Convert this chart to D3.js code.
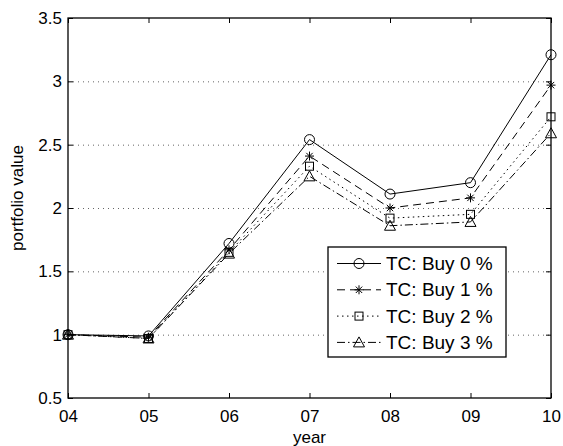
<!doctype html>
<html>
<head>
<script src="https://cdn.jsdelivr.net/npm/d3@7/dist/d3.min.js"></script>
<style>
  body { margin: 0; background: #fff; }
  svg { font-family: "Liberation Sans", Arial, sans-serif; }
  .grid line { stroke: #000; stroke-width: 1; stroke-dasharray: 1 4; opacity: 0.6; }
</style>
</head>
<body>
<svg width="563" height="446"></svg>
<script>
// data
var years = [4, 5, 6, 7, 8, 9, 10];
var yearLabels = ["04", "05", "06", "07", "08", "09", "10"];
var yTicks = [0.5, 1, 1.5, 2, 2.5, 3, 3.5];
var buy0 = [1.00, 0.99, 1.72, 2.54, 2.11, 2.20, 3.21];
var buy1 = [1.00, 0.98, 1.67, 2.41, 2.00, 2.08, 2.97];
var buy2 = [1.00, 0.97, 1.65, 2.33, 1.92, 1.95, 2.72];
var buy3 = [1.00, 0.97, 1.64, 2.25, 1.86, 1.89, 2.59];
var names = ["TC: Buy 0 %", "TC: Buy 1 %", "TC: Buy 2 %", "TC: Buy 3 %"];

var series = [
  {name: names[0], values: buy0, dash: null, marker: "circle"},
  {name: names[1], values: buy1, dash: "8,5", marker: "star"},
  {name: names[2], values: buy2, dash: "1.5,3.5", marker: "square"},
  {name: names[3], values: buy3, dash: "8,3,1.5,3", marker: "triangle"}
];

// plot box (top is reserved on window, so use other names)
var pLeft = 68, pRight = 551, pTop = 18, pBottom = 398;
var svg = d3.select("svg");

var x = d3.scaleLinear().domain([4, 10]).range([pLeft, pRight]);
var y = d3.scaleLinear().domain([0.5, 3.5]).range([pBottom, pTop]);

// horizontal dotted grid
svg.append("g").attr("class", "grid")
  .selectAll("line")
  .data(yTicks.slice(1, -1))
  .enter().append("line")
  .attr("x1", pLeft).attr("x2", pRight)
  .attr("y1", function(d) { return y(d) + 0.5; })
  .attr("y2", function(d) { return y(d) + 0.5; });

// axes, ticks inward
var xAxis = d3.axisBottom(x).tickValues(years)
  .tickFormat(function(d, i) { return yearLabels[i]; })
  .tickSizeInner(-5).tickSizeOuter(0).tickPadding(12);
svg.append("g").attr("transform", "translate(0," + pBottom + ")").call(xAxis);

var yAxis = d3.axisLeft(y).tickValues(yTicks)
  .tickFormat(d3.format("")).tickSizeInner(-5).tickSizeOuter(0).tickPadding(6);
svg.append("g").attr("transform", "translate(" + pLeft + ",0)").call(yAxis);

// mirrored top / right ticks
svg.append("g").attr("transform", "translate(0," + pTop + ")")
  .call(d3.axisTop(x).tickValues(years).tickSizeInner(-5).tickSizeOuter(0).tickFormat(""));
svg.append("g").attr("transform", "translate(" + pRight + ",0)")
  .call(d3.axisRight(y).tickValues(yTicks).tickSizeInner(-5).tickSizeOuter(0).tickFormat(""));

svg.selectAll(".domain").remove();
svg.selectAll(".tick line").attr("stroke", "#000");
svg.selectAll(".tick text").attr("font-size", 17).attr("fill", "#000")
  .attr("font-family", "'Liberation Sans', Arial, sans-serif");

svg.append("rect")
  .attr("x", pLeft).attr("y", pTop)
  .attr("width", pRight - pLeft).attr("height", pBottom - pTop)
  .attr("fill", "none").attr("stroke", "#000").attr("stroke-width", 1.3);

// axis labels
svg.append("text")
  .attr("x", (pLeft + pRight) / 2).attr("y", 443)
  .attr("text-anchor", "middle").attr("font-size", 17)
  .text("year");
svg.append("text")
  .attr("transform", "translate(23,198) rotate(-90)")
  .attr("text-anchor", "middle").attr("font-size", 17)
  .text("portfolio value");

function drawMarker(g, type, cx, cy) {
  if (type === "circle") {
    g.append("circle").attr("cx", cx).attr("cy", cy).attr("r", 5)
      .attr("fill", "none").attr("stroke", "#000");
  } else if (type === "square") {
    g.append("rect").attr("x", cx - 4).attr("y", cy - 4)
      .attr("width", 8).attr("height", 8)
      .attr("fill", "none").attr("stroke", "#000");
  } else if (type === "triangle") {
    g.append("path")
      .attr("d", "M" + cx + "," + (cy - 5.5) + "L" + (cx + 5.5) + "," + (cy + 4.5) + "L" + (cx - 5.5) + "," + (cy + 4.5) + "Z")
      .attr("fill", "none").attr("stroke", "#000");
  } else if (type === "star") {
    var r = 4.5, d = 3.2;
    g.append("path")
      .attr("d", "M" + (cx - r) + "," + cy + "h" + (2 * r) +
                 "M" + cx + "," + (cy - r) + "v" + (2 * r) +
                 "M" + (cx - d) + "," + (cy - d) + "l" + (2 * d) + "," + (2 * d) +
                 "M" + (cx - d) + "," + (cy + d) + "l" + (2 * d) + "," + (-2 * d))
      .attr("fill", "none").attr("stroke", "#000");
  }
}

var line = d3.line()
  .x(function(d, i) { return x(years[i]); })
  .y(function(d) { return y(d); });

series.forEach(function(s) {
  var g = svg.append("g");
  g.append("path")
    .attr("d", line(s.values))
    .attr("fill", "none").attr("stroke", "#000").attr("stroke-width", 1)
    .attr("stroke-dasharray", s.dash);
  s.values.forEach(function(v, i) {
    drawMarker(g, s.marker, x(years[i]), y(v));
  });
});

// legend
var lg = svg.append("g");
lg.append("rect").attr("x", 328).attr("y", 247).attr("width", 178).attr("height", 110)
  .attr("fill", "#fff").attr("stroke", "#000").attr("stroke-width", 1.3);
series.forEach(function(s, i) {
  var ry = 263.5 + i * 26.3;
  lg.append("line").attr("x1", 337).attr("x2", 381).attr("y1", ry).attr("y2", ry)
    .attr("stroke", "#000").attr("stroke-dasharray", s.dash);
  drawMarker(lg, s.marker, 359, ry);
  lg.append("text").attr("x", 386).attr("y", ry).attr("dy", "0.35em")
    .attr("font-size", 19).text(s.name);
});
</script>
</body>
</html>
